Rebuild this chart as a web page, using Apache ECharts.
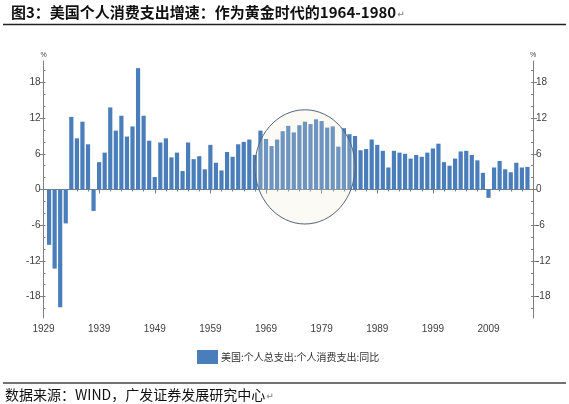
<!DOCTYPE html>
<html>
<head>
<meta charset="utf-8">
<script src="https://cdn.jsdelivr.net/npm/echarts@6/dist/echarts.min.js"></script>
<style>
html,body{margin:0;padding:0;background:#fff;}
#c{width:569px;height:404px;}
</style>
</head>
<body>
<div id="c"></div>
<script>
// ---- data ----
const firstYear = 1930;
const growth = [
  -9.3, -13.3, -19.8, -5.7, 12.2, 8.6, 11.4, 7.6, -3.6, 4.6,      // 1930-1939
  6.2, 13.8, 9.9, 12.4, 8.9, 10.6, 20.4, 12.4, 8.2, 2.1,          // 1940-1949
  7.9, 8.6, 5.4, 6.2, 3.1, 7.9, 5.1, 5.6, 3.4, 7.5,               // 1950-1959
  4.5, 3.2, 6.3, 5.5, 7.6, 8.0, 8.4, 5.8, 9.9, 8.5,               // 1960-1969
  7.3, 8.4, 9.8, 10.7, 9.6, 10.8, 11.4, 11.0, 11.8, 11.5,         // 1970-1979
  10.4, 10.6, 7.2, 10.3, 9.3, 9.0, 6.6, 6.8, 8.4, 7.5,            // 1980-1989
  6.5, 3.7, 6.5, 6.2, 6.0, 5.2, 5.8, 5.5, 6.2, 6.9,               // 1990-1999
  7.7, 4.6, 4.0, 5.2, 6.4, 6.5, 5.8, 4.9, 2.8, -1.4,              // 2000-2009
  3.7, 4.8, 3.4, 2.9, 4.5, 3.7, 3.8                               // 2010-2016
];
const years = growth.map((_, i) => String(firstYear + i));
const axisStart = '1929';
const axisEnd = '2017';
const xTickLabels = ['1929','1939','1949','1959','1969','1979','1989','1999','2009'];
const yTickLabels = [-18, -12, -6, 0, 6, 12, 18];
const yMinorTicks = [-20,-18,-16,-14,-12,-10,-8,-6,-4,-2,0,2,4,6,8,10,12,14,16,18,20];
const yRange = [-21.6, 21.6];
const seriesName = '美国:个人总支出:个人消费支出:同比';
const titleText = '图3：美国个人消费支出增速：作为黄金时代的1964-1980';
const sourceText = '数据来源：WIND，广发证券发展研究中心';
const paraMark = '↵';
// highlighted period (annotation ellipse) in data units
const highlight = { centerYear: 1975.7, centerValue: 3.8, halfYears: 9.5, halfValue: 9.6 };

// ---- build ----
const categories = [axisStart, ...years, axisEnd];
const barData = [null, ...growth, null];

const axisColor = '#7f7f7f';
const labelColor = '#404040';
const font = 'Liberation Sans, Arial, sans-serif';
const cjk = 'Noto Sans CJK SC';

function yAxisPair(pos) {
  return [
    {
      type: 'value', position: pos, min: yRange[0], max: yRange[1],
      name: '%', nameLocation: 'end', nameGap: 2,
      nameTextStyle: { fontSize: 7, color: labelColor, fontFamily: font },
      axisLine: { show: true, lineStyle: { color: axisColor, width: 1 } },
      axisTick: { show: true, inside: false, length: 4, customValues: yTickLabels, lineStyle: { color: axisColor } },
      axisLabel: { show: true, customValues: yTickLabels, fontSize: 10, color: labelColor, fontFamily: font, margin: 3 },
      splitLine: { show: false }
    },
    {
      type: 'value', position: pos, min: yRange[0], max: yRange[1],
      axisLine: { show: false },
      axisTick: { show: true, inside: true, length: 2, customValues: yMinorTicks, lineStyle: { color: axisColor } },
      axisLabel: { show: false },
      splitLine: { show: false }
    }
  ];
}

const chart = echarts.init(document.getElementById('c'), null, { renderer: 'canvas' });
const option = {
  animation: false,
  backgroundColor: '#fff',
  title: [
    { text: '{t|' + titleText + '}{m|' + paraMark + '}', left: 6, top: 0,
      textStyle: { rich: {
        t: { fontSize: 15, fontWeight: 'bold', color: '#111', fontFamily: cjk },
        m: { fontSize: 9, color: '#999', fontFamily: 'DejaVu Sans', padding: [4, 0, 0, 1] }
      } } },
    { text: '{t|' + sourceText + '}{m|' + paraMark + '}', left: 0, top: 383,
      textStyle: { rich: {
        t: { fontSize: 14, fontWeight: 'normal', color: '#111', fontFamily: cjk },
        m: { fontSize: 9, color: '#999', fontFamily: 'DejaVu Sans', padding: [3, 0, 0, 1] }
      } } }
  ],
  grid: { left: 43.5, right: 36, top: 61, bottom: 86, containLabel: false },
  legend: {
    data: [seriesName], left: 197, top: 350, padding: 0, icon: 'rect', itemWidth: 21, itemHeight: 14, itemGap: 4,
    textStyle: { fontSize: 10, color: '#333', fontFamily: cjk, padding: [0, 0, 0, -2] }
  },
  xAxis: [
    {
      type: 'category', data: categories, boundaryGap: false, position: 'bottom',
      axisLine: { show: true, lineStyle: { color: axisColor, width: 1 } },
      axisTick: { show: true, length: 4, interval: (i, v) => xTickLabels.includes(v), lineStyle: { color: axisColor } },
      axisLabel: { show: true, interval: (i, v) => xTickLabels.includes(v), fontSize: 10, color: labelColor, fontFamily: font, margin: 6 },
      splitLine: { show: false }
    },
    {
      type: 'category', data: categories, boundaryGap: false, position: 'bottom',
      axisLine: { show: false },
      axisTick: { show: true, length: 2, interval: 1, lineStyle: { color: axisColor } },
      axisLabel: { show: false },
      splitLine: { show: false }
    }
  ],
  yAxis: [...yAxisPair('left'), ...yAxisPair('right')],
  series: [{
    name: seriesName, type: 'bar', data: barData, barWidth: 4.2,
    xAxisIndex: 0, yAxisIndex: 0,
    itemStyle: { color: '#4a7ebb' }
  }]
};
chart.setOption(option);

// annotation ellipse positioned from data coordinates
const idx0 = categories.indexOf(axisStart);
const cxIdx = highlight.centerYear - Number(axisStart) + idx0;
const c = chart.convertToPixel({ gridIndex: 0 }, [cxIdx, highlight.centerValue]);
const e = chart.convertToPixel({ gridIndex: 0 }, [cxIdx + highlight.halfYears, highlight.centerValue + highlight.halfValue]);
const rx = Math.abs(e[0] - c[0]);
const ry = Math.abs(c[1] - e[1]);

chart.setOption({
  graphic: [
    { type: 'ellipse', z: 100, shape: { cx: c[0], cy: c[1], rx: rx, ry: ry },
      style: { fill: 'rgba(240,234,205,0.22)', stroke: '#55657f', lineWidth: 1 } },
    { type: 'line', z: 100, shape: { x1: 3, y1: 24.5, x2: 566, y2: 24.5 }, style: { stroke: '#222', lineWidth: 1.5 } },
    { type: 'line', z: 100, shape: { x1: 3, y1: 383, x2: 566, y2: 383 }, style: { stroke: '#444', lineWidth: 1.5 } }
  ]
});
</script>
</body>
</html>
